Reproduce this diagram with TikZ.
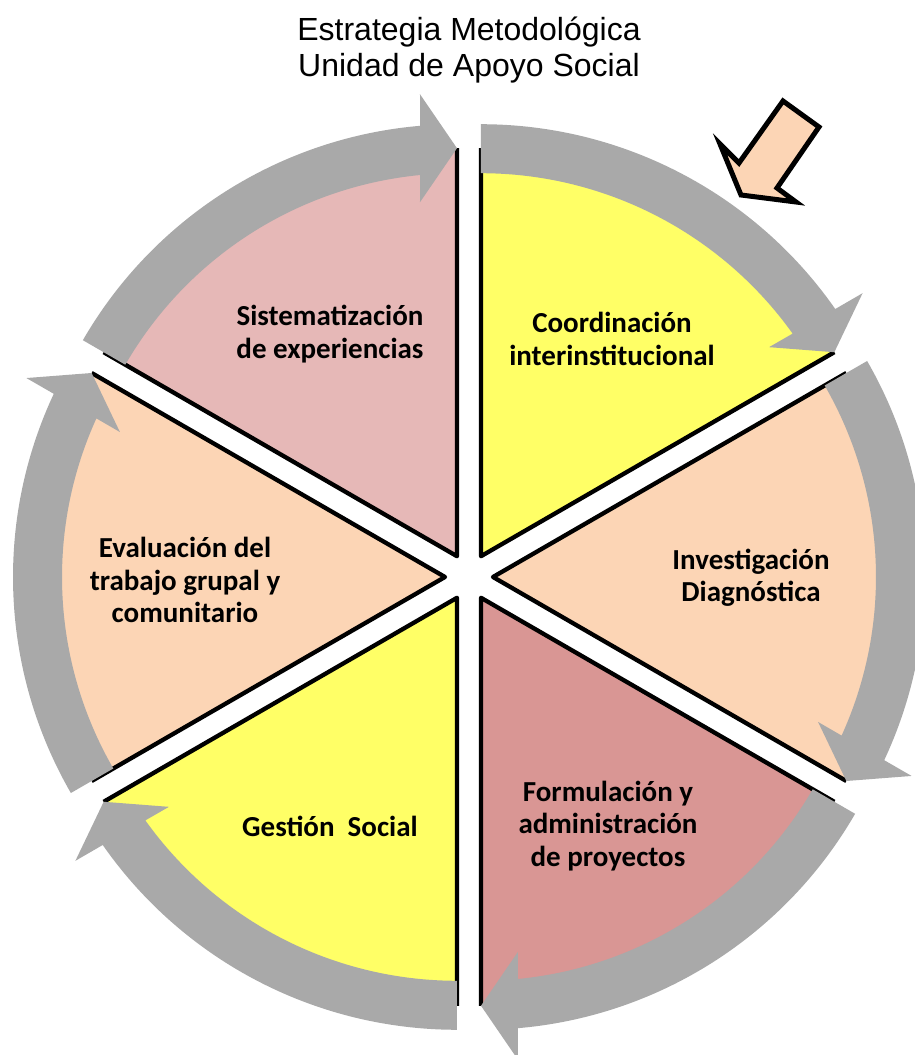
\documentclass[tikz,border=0pt]{standalone}
\usepackage{fontspec}
\setmainfont{Carlito}
\newfontfamily\titlefont{Liberation Sans}
\definecolor{bandgray}{HTML}{A9A9A9}
\definecolor{secyellow}{HTML}{FFFF66}
\definecolor{secpeach}{HTML}{FCD5B5}
\definecolor{secpink}{HTML}{E6B8B7}
\definecolor{secrose}{HTML}{D99694}
\tikzset{
  lbl/.style={font=\bfseries\fontsize{29}{32.5}\selectfont, align=center, text=black, inner sep=0pt},
  edgeline/.style={draw=black, line width=4.3pt, line join=round},
}
\newcommand\mysector[2]{%
  \begin{scope}[shift={({#1+30}:24pt)}, rotate=#1]
    \fill[#2] (0pt,0pt) -- (0:408pt) arc[start angle=0, end angle=60, radius=408pt] -- cycle;
    \draw[edgeline] (0:408pt) -- (0pt,0pt) -- (60:408pt);
  \end{scope}}
\newcommand\mybandarrow[1]{%
  \begin{scope}[shift={({#1+30}:24pt)}, rotate=#1]
    \fill[bandgray] (60:432pt) arc[start angle=60, end angle=4.91, radius=432pt]
      -- (462pt,37pt) -- (408pt,0pt) -- (354pt,37pt) -- (5.54:383pt)
      arc[start angle=5.54, end angle=60, radius=383pt] -- cycle;
  \end{scope}}
\begin{document}
\begin{tikzpicture}[x=1pt, y=1pt]
  \useasboundingbox (-469,-478) rectangle (445,577);
  % sectors
  \mysector{30}{secyellow}
  \mysector{-30}{secpeach}
  \mysector{-90}{secrose}
  \mysector{-150}{secyellow}
  \mysector{150}{secpeach}
  \mysector{90}{secpink}
  % circular arrows
  \mybandarrow{30}
  \mybandarrow{-30}
  \mybandarrow{-90}
  \mybandarrow{-150}
  \mybandarrow{150}
  \mybandarrow{90}
  % pointer arrow
  \draw[fill=secpeach, line width=5pt, line join=miter]
    (314,476) -- (350,450) -- (308,389) -- (327,375) -- (272,382)
    -- (251,433) -- (270,414) -- cycle;
  % title
  \node[font=\titlefont\fontsize{32}{36}\selectfont, align=center, inner sep=0pt] (title) at (0,527)
    {Estrategia Metodológica\\Unidad de Apoyo Social};
  % labels
  \node[lbl] (sist) at (-139,243) {Sistematización\\de experiencias};
  \node[lbl] (coord) at (143,238) {Coordinación\\interinstitucional};
  \node[lbl] (inv) at (282,-1) {Investigación\\Diagnóstica};
  \node[lbl] (form) at (139,-249) {Formulación y\\administración\\de proyectos};
  \node[lbl] (gest) at (-139,-249) {Gestión\ \ Social};
  \node[lbl] (eval) at (-284,-3) {Evaluación del\\trabajo grupal y\\comunitario};
\end{tikzpicture}
\end{document}
